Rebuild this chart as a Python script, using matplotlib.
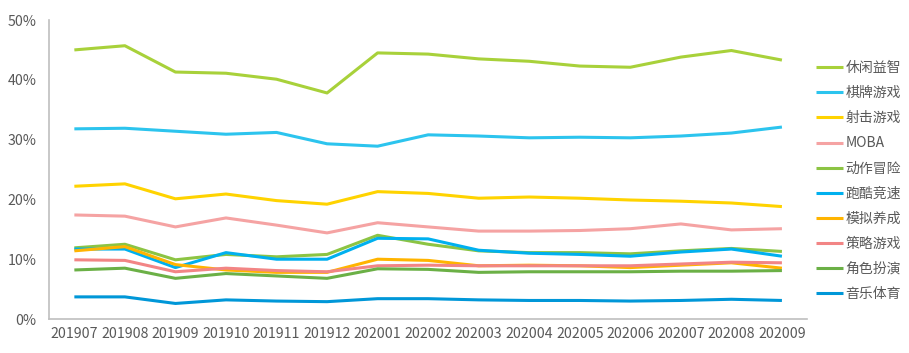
import matplotlib
matplotlib.use("Agg")
import matplotlib.pyplot as plt
from matplotlib.ticker import FuncFormatter

plt.rcParams["font.family"] = ["Noto Sans CJK SC", "DejaVu Sans"]

months = ["201907", "201908", "201909", "201910", "201911", "201912",
          "202001", "202002", "202003", "202004", "202005", "202006",
          "202007", "202008", "202009"]

casual   = [45.0, 45.7, 41.3, 41.1, 40.1, 37.8, 44.5, 44.3, 43.5, 43.1, 42.3, 42.1, 43.8, 44.9, 43.3]
board    = [31.8, 31.9, 31.4, 30.9, 31.2, 29.3, 28.9, 30.8, 30.6, 30.3, 30.4, 30.3, 30.6, 31.1, 32.1]
shooter  = [22.2, 22.6, 20.1, 20.9, 19.8, 19.2, 21.3, 21.0, 20.2, 20.4, 20.2, 19.9, 19.7, 19.4, 18.8]
moba     = [17.4, 17.2, 15.4, 16.9, 15.7, 14.4, 16.1, 15.4, 14.7, 14.7, 14.8, 15.1, 15.9, 14.9, 15.1]
action   = [11.9, 12.5,  9.9, 10.8, 10.4, 10.8, 14.0, 12.5, 11.4, 11.1, 11.1, 10.9, 11.4, 11.8, 11.3]
racing   = [11.7, 11.7,  8.6, 11.1, 10.0, 10.0, 13.5, 13.4, 11.5, 11.0, 10.8, 10.5, 11.2, 11.7, 10.5]
sim      = [11.4, 12.1,  9.1,  8.2,  7.8,  7.8, 10.0,  9.8,  8.9,  9.0,  8.9,  8.6,  9.0,  9.4,  8.5]
strategy = [ 9.9,  9.8,  7.9,  8.5,  8.1,  7.9,  8.9,  9.0,  8.9,  8.9,  8.9,  8.9,  9.2,  9.5,  9.4]
rpg      = [ 8.2,  8.5,  6.8,  7.6,  7.2,  6.8,  8.4,  8.3,  7.8,  7.9,  7.9,  7.9,  8.0,  8.0,  8.1]
music    = [ 3.7,  3.7,  2.6,  3.2,  3.0,  2.9,  3.4,  3.4,  3.2,  3.1,  3.1,  3.0,  3.1,  3.3,  3.1]

series = [
    ("休闲益智", casual,   "#a8d13a"),
    ("棋牌游戏", board,    "#2cc4ee"),
    ("射击游戏", shooter,  "#ffd300"),
    ("MOBA",     moba,     "#f5a3a3"),
    ("动作冒险", action,   "#8cc443"),
    ("跑酷竞速", racing,   "#00b0ef"),
    ("模拟养成", sim,      "#ffb400"),
    ("策略游戏", strategy, "#f28585"),
    ("角色扮演", rpg,      "#6bb046"),
    ("音乐体育", music,    "#0097d8"),
]

fig = plt.figure(figsize=(9.09, 3.53), dpi=100)
ax = fig.add_axes([0.054, 0.0963, 0.834, 0.847])

x = range(len(months))
for name, vals, color in series:
    ax.plot(x, vals, color=color, linewidth=2.2, label=name, solid_capstyle="butt")

ax.set_xlim(-0.5, len(months) - 0.5)
ax.set_ylim(0, 50)
ax.set_yticks([0, 10, 20, 30, 40, 50])
ax.yaxis.set_major_formatter(FuncFormatter(lambda v, _: f"{v:.0f}%"))
ax.set_xticks(list(x))
ax.set_xticklabels(months)

for s in ["top", "right"]:
    ax.spines[s].set_visible(False)
for s in ["left", "bottom"]:
    ax.spines[s].set_color("#bfbfbf")
    ax.spines[s].set_linewidth(1.2)
ax.tick_params(length=0, labelsize=10.2, colors="#595959", pad=6)
ax.tick_params(axis="y", pad=9)

leg = fig.legend(loc="upper left", bbox_to_anchor=(0.898, 0.827), frameon=False,
                 fontsize=10, handlelength=1.95, handletextpad=0.15,
                 labelspacing=0.8, borderaxespad=0, borderpad=0)
for t in leg.get_texts():
    t.set_color("#595959")

fig.savefig("out.png", dpi=100)
